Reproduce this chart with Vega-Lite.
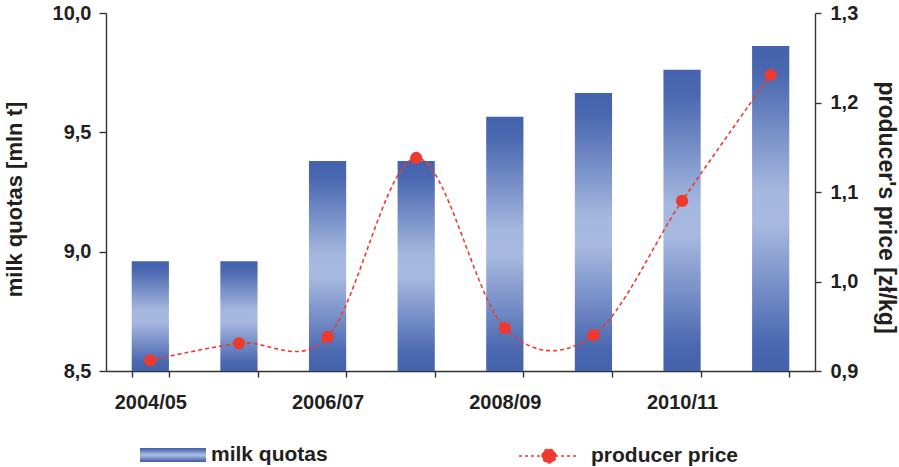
{
  "$schema": "https://vega.github.io/schema/vega-lite/v6.json",
  "autosize": {"type": "none"},
  "width": 709,
  "height": 358,
  "padding": {"left": 106, "top": 13, "right": 84, "bottom": 96},
  "background": "white",
  "data": {
    "values": [
      {"season": "2004/05", "quota": 8.96, "price": 0.912},
      {"season": "2005/06", "quota": 8.96, "price": 0.931},
      {"season": "2006/07", "quota": 9.38, "price": 0.938},
      {"season": "2007/08", "quota": 9.38, "price": 1.138},
      {"season": "2008/09", "quota": 9.565, "price": 0.948},
      {"season": "2009/10", "quota": 9.665, "price": 0.940},
      {"season": "2010/11", "quota": 9.762, "price": 1.090},
      {"season": "2011/12", "quota": 9.862, "price": 1.231}
    ]
  },
  "encoding": {
    "x": {
      "field": "season",
      "type": "nominal",
      "sort": null,
      "scale": {"paddingInner": 0.58, "paddingOuter": 0.29},
      "axis": {
        "title": null,
        "labelAngle": 0,
        "tickBand": "extent",
        "labelExpr": "indexof(['2004/05','2006/07','2008/09','2010/11'], datum.label) >= 0 ? datum.label : ''",
        "labelPadding": 15,
        "tickSize": 6
      }
    }
  },
  "layer": [
    {
      "mark": {
        "type": "bar",
        "fill": {
          "gradient": "linear",
          "x1": 0, "y1": 0, "x2": 0, "y2": 1,
          "stops": [
            {"offset": 0, "color": "#4462ad"},
            {"offset": 0.08, "color": "#4a67b0"},
            {"offset": 0.45, "color": "#a5b8df"},
            {"offset": 0.55, "color": "#a7b9e0"},
            {"offset": 0.92, "color": "#4a67b0"},
            {"offset": 1, "color": "#4462ad"}
          ]
        }
      },
      "encoding": {
        "y": {
          "field": "quota",
          "type": "quantitative",
          "scale": {"domain": [8.5, 10.0], "zero": false, "nice": false},
          "axis": {
            "title": "milk quotas [mln t]",
            "values": [8.5, 9.0, 9.5, 10.0],
            "labelExpr": "replace(format(datum.value, '.1f'), '.', ',')",
            "titlePadding": 26,
            "titleFontSize": 22,
            "titleY": 186,
            "labelPadding": 8,
            "tickSize": 7
          }
        },
        "y2": {"datum": 8.5},
        "opacity": {
          "datum": "milk quotas",
          "type": "nominal",
          "scale": {"range": [1]},
          "legend": {
            "title": null,
            "orient": "none",
            "legendX": 34,
            "legendY": 409,
            "symbolType": "M-1,-0.21H1V0.21H-1Z",
            "symbolSize": 4356,
            "symbolStrokeWidth": 0,
            "labelOffset": 5,
            "encode": {
              "symbols": {
                "update": {
                  "fill": {
                    "value": {
                      "gradient": "linear",
                      "x1": 0, "y1": 0, "x2": 0, "y2": 1,
                      "stops": [
                        {"offset": 0, "color": "#4462ad"},
                        {"offset": 0.5, "color": "#a7b9e0"},
                        {"offset": 1, "color": "#4462ad"}
                      ]
                    }
                  },
                  "strokeWidth": {"value": 0},
                  "opacity": {"value": 1}
                }
              }
            }
          }
        }
      }
    },
    {
      "layer": [
        {
          "mark": {"type": "line", "interpolate": "cardinal", "strokeDash": [4, 3], "strokeWidth": 1.6},
          "encoding": {
            "y": {
              "field": "price",
              "type": "quantitative",
              "scale": {"domain": [0.9, 1.3], "zero": false, "nice": false},
              "axis": {
                "orient": "right",
                "title": "producer's price [zł/kg]",
                "values": [0.9, 1.0, 1.1, 1.2, 1.3],
                "labelExpr": "replace(format(datum.value, '.1f'), '.', ',')",
                "titlePadding": 16,
                "titleFontSize": 23,
                "titleY": 194,
                "labelPadding": 9,
                "tickSize": 6
              }
            },
            "stroke": {
              "datum": "producer price",
              "type": "nominal",
              "scale": {"range": ["#ee3a2e"]},
              "legend": {
                "title": null,
                "orient": "none",
                "legendX": 412,
                "legendY": 412,
                "symbolType": "M-1,0H1M-0.23,0A0.23,0.23 0 1,1 0.23,0A0.23,0.23 0 1,1 -0.23,0Z",
                "symbolSize": 3600,
                "symbolStrokeWidth": 1.6,
                "symbolDash": [3, 3],
                "symbolFillColor": "#ee3a2e",
                "labelOffset": 11
              }
            }
          }
        },
        {
          "mark": {"type": "point", "filled": true, "size": 150, "color": "#ee3a2e", "opacity": 1},
          "encoding": {
            "y": {"field": "price", "type": "quantitative"}
          }
        }
      ]
    }
  ],
  "resolve": {"scale": {"y": "independent", "stroke": "independent", "opacity": "independent"}},
  "config": {
    "font": "Liberation Sans",
    "view": {"stroke": null},
    "axis": {
      "grid": false,
      "domainColor": "#333333",
      "tickColor": "#333333",
      "domainWidth": 1.4,
      "tickWidth": 1.4,
      "labelFont": "Liberation Sans",
      "labelFontWeight": "bold",
      "labelFontSize": 20,
      "labelColor": "#231f20",
      "titleFont": "Liberation Sans",
      "titleFontWeight": "bold",
      "titleColor": "#231f20"
    },
    "legend": {
      "labelFont": "Liberation Sans",
      "labelFontWeight": "bold",
      "labelFontSize": 21,
      "labelColor": "#231f20",
      "labelLimit": 300
    }
  }
}
